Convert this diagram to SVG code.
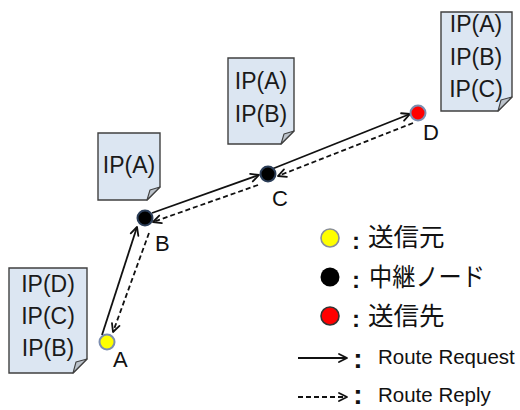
<svg xmlns="http://www.w3.org/2000/svg" width="520" height="410" viewBox="0 0 520 410">
  <style>
    .doc { fill: #dce6f2; stroke: #404040; stroke-width: 1.4; }
    .fold { fill: #bcc3cb; stroke: #404040; stroke-width: 1.1; stroke-linejoin: round; }
    .ip { font-family: "Liberation Sans", Arial, sans-serif; font-size: 23px; fill: #1a1a1a; text-anchor: middle; }
    .lbl { font-family: "Liberation Sans", Arial, sans-serif; font-size: 22px; fill: #111; }
    .jp { font-family: "Liberation Sans", "Noto Sans CJK JP", sans-serif; font-size: 25.5px; fill: #111; }
    .en { font-family: "Liberation Sans", Arial, sans-serif; font-size: 20.5px; fill: #111; }
    .colon { font-family: "Liberation Sans", Arial, sans-serif; font-weight: bold; fill: #111; text-anchor: middle; }
    .req { stroke: #111; stroke-width: 1.8; fill: none; marker-end: url(#arr); }
    .rep { stroke: #111; stroke-width: 1.8; fill: none; stroke-dasharray: 5 3; marker-end: url(#arr); }
    .relay { fill: #000; stroke: #2c3e58; stroke-width: 2; }
  </style>
  <defs>
    <marker id="arr" markerUnits="userSpaceOnUse" markerWidth="12" markerHeight="12" refX="9" refY="5" orient="auto" overflow="visible">
      <path d="M1,1 L9,5 L1,9" fill="none" stroke="#111" stroke-width="1.8" stroke-linecap="round" stroke-linejoin="round"/>
    </marker>
  </defs>

  <!-- route tables carried by the packets -->
  <g id="table-a">
    <path class="doc" d="M9,268 H87 V359 L73,373 H9 Z"/>
    <path class="fold" d="M73,373 L76,362 L87,359 Z"/>
    <text class="ip" x="48" y="292">IP(D)</text>
    <text class="ip" x="48" y="324">IP(C)</text>
    <text class="ip" x="48" y="356">IP(B)</text>
  </g>
  <g id="table-b">
    <path class="doc" d="M98,133 H160 V187 L147,200 H98 Z"/>
    <path class="fold" d="M147,200 L150,190 L160,187 Z"/>
    <text class="ip" x="129" y="173">IP(A)</text>
  </g>
  <g id="table-c">
    <path class="doc" d="M228,58 H294 V131 L281,144 H228 Z"/>
    <path class="fold" d="M281,144 L284,134 L294,131 Z"/>
    <text class="ip" x="261" y="89">IP(A)</text>
    <text class="ip" x="261" y="122">IP(B)</text>
  </g>
  <g id="table-d">
    <path class="doc" d="M441,12 H512 V97 L498,111 H441 Z"/>
    <path class="fold" d="M498,111 L501,100 L512,97 Z"/>
    <text class="ip" x="476" y="32">IP(A)</text>
    <text class="ip" x="476" y="65">IP(B)</text>
    <text class="ip" x="476" y="97">IP(C)</text>
  </g>

  <!-- request / reply links -->
  <g id="connectors">
    <line class="req" x1="102" y1="335" x2="137" y2="227"/>
    <line class="rep" x1="149" y1="233" x2="113" y2="332"/>
    <line class="req" x1="152" y1="213" x2="259" y2="175"/>
    <line class="rep" x1="258" y1="185" x2="153" y2="222"/>
    <line class="req" x1="272" y1="169" x2="410" y2="114"/>
    <line class="rep" x1="413" y1="123" x2="278" y2="176"/>
  </g>

  <!-- nodes -->
  <g id="node-a">
    <circle cx="107" cy="342" r="7.5" fill="#ffff00" stroke="#7b8db0" stroke-width="2"/>
    <text class="lbl" x="113" y="367">A</text>
  </g>
  <g id="node-b">
    <circle class="relay" cx="145" cy="218" r="7.5"/>
    <text class="lbl" x="155" y="251">B</text>
  </g>
  <g id="node-c">
    <circle class="relay" cx="268" cy="174" r="7.5"/>
    <text class="lbl" x="272" y="206">C</text>
  </g>
  <g id="node-d">
    <circle cx="418" cy="113" r="7.5" fill="#ff0000" stroke="#7b8db0" stroke-width="2"/>
    <text class="lbl" x="423" y="140">D</text>
  </g>

  <!-- legend -->
  <g id="legend">
    <circle cx="330" cy="238" r="9" fill="#ffff00" stroke="#8a8f99" stroke-width="1.6"/>
    <text class="colon" x="356" y="249" font-size="24">:</text>
    <text class="jp" x="368" y="246">送信元</text>

    <circle cx="330" cy="277" r="9.5" fill="#000"/>
    <text class="colon" x="356" y="288" font-size="24">:</text>
    <text class="jp" x="369" y="286" textLength="116" lengthAdjust="spacingAndGlyphs">中継ノード</text>

    <circle cx="330" cy="316" r="9" fill="#ff0000" stroke="#333" stroke-width="1.6"/>
    <text class="colon" x="356" y="327" font-size="24">:</text>
    <text class="jp" x="368" y="325">送信先</text>

    <line class="req" x1="298" y1="358" x2="347" y2="358"/>
    <text class="colon" x="358" y="368" font-size="28">:</text>
    <text class="en" x="378" y="364">Route Request</text>

    <line class="rep" x1="298" y1="397" x2="347" y2="397"/>
    <text class="colon" x="358" y="404" font-size="28">:</text>
    <text class="en" x="378" y="402">Route Reply</text>
  </g>
</svg>
